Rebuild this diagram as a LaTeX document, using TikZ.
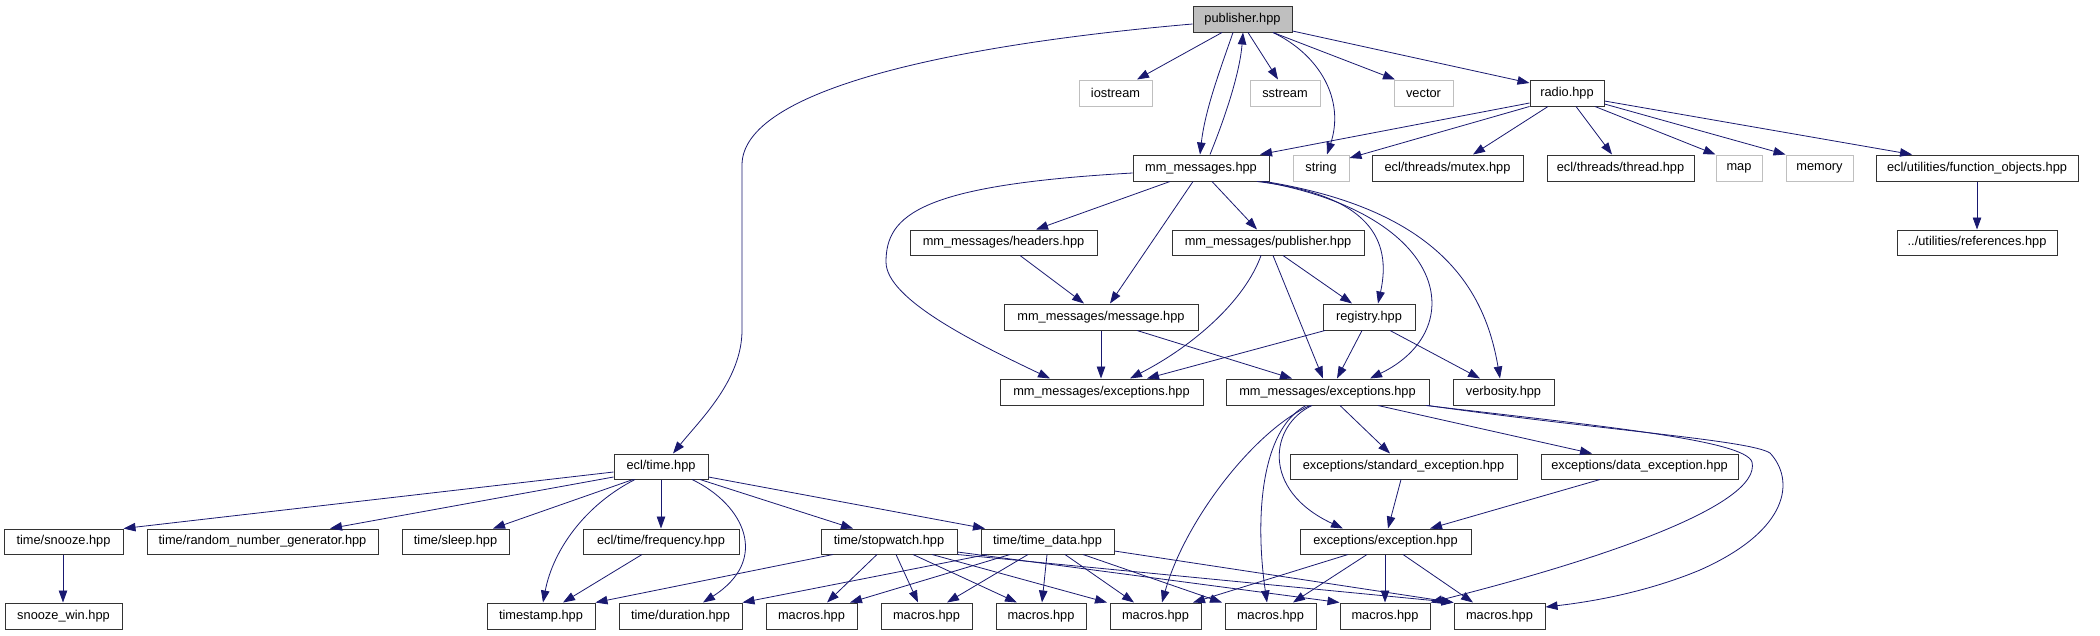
\documentclass[tikz,border=0pt]{standalone}
\usepackage{fontspec}
\usetikzlibrary{arrows.meta,calc}
\newfontfamily\lsans{Liberation Sans}
\definecolor{edgec}{HTML}{191970}
\definecolor{greyb}{HTML}{BFBFBF}
\definecolor{pfill}{HTML}{BFBFBF}
\definecolor{boxb}{HTML}{333333}
\newcommand\mkbox[7]{%
  \pgfmathsetmacro\mkw{#3-#2}\pgfmathsetmacro\mkh{#5-#4}%
  \pgfmathsetmacro\mkx{(#2+#3)/2}\pgfmathsetmacro\mky{(#4+#5)/2}%
  \node[#6, minimum width=\mkw pt, minimum height=\mkh pt] (#1) at (\mkx,\mky) {#7};}
\begin{document}
\begin{tikzpicture}[x=1pt,y=-1pt,
  basebox/.style={inner sep=0pt, line width=1pt, font=\lsans\fontsize{12.8}{14}\selectfont},
  box/.style={basebox, draw=boxb},
  gbox/.style={basebox, draw=greyb},
  rootbox/.style={basebox, draw=boxb, fill=pfill},
  e/.style={draw=edgec, line width=0.8pt, -{Triangle[length=12pt,width=8.5pt]}}]
\useasboundingbox[fill=white] (0,0) rectangle (2100,635);
% nodes
\mkbox{P}{1193}{1292}{6}{32}{rootbox}{publisher.hpp}
\mkbox{iostream}{1079}{1152}{80}{106}{gbox}{iostream}
\mkbox{sstream}{1250}{1320}{80}{106}{gbox}{sstream}
\mkbox{vector}{1394}{1453}{80}{106}{gbox}{vector}
\mkbox{radio}{1530}{1604}{80}{106}{box}{radio.hpp}
\mkbox{M}{1133}{1269}{155}{181}{box}{mm\_messages.hpp}
\mkbox{string}{1293}{1349}{155}{181}{gbox}{string}
\mkbox{mutex}{1372}{1523}{155}{181}{box}{ecl/threads/mutex.hpp}
\mkbox{thread}{1547}{1694}{155}{181}{box}{ecl/threads/thread.hpp}
\mkbox{map}{1716}{1762}{155}{181}{gbox}{map}
\mkbox{memory}{1786}{1853}{155}{181}{gbox}{memory}
\mkbox{funcobj}{1876}{2078}{155}{181}{box}{ecl/utilities/function\_objects.hpp}
\mkbox{refs}{1897}{2057}{230}{255}{box}{../utilities/references.hpp}
\mkbox{headers}{910}{1097}{230}{255}{box}{mm\_messages/headers.hpp}
\mkbox{mpub}{1172}{1364}{230}{255}{box}{mm\_messages/publisher.hpp}
\mkbox{message}{1004}{1198}{304}{330}{box}{mm\_messages/message.hpp}
\mkbox{registry}{1323}{1415}{304}{330}{box}{registry.hpp}
\mkbox{excA}{1000}{1203}{379}{405}{box}{mm\_messages/exceptions.hpp}
\mkbox{excB}{1226}{1429}{379}{405}{box}{mm\_messages/exceptions.hpp}
\mkbox{verbosity}{1453}{1554}{379}{405}{box}{verbosity.hpp}
\mkbox{ecltime}{614}{708}{454}{479}{box}{ecl/time.hpp}
\mkbox{stdexc}{1290}{1517}{454}{479}{box}{exceptions/standard\_exception.hpp}
\mkbox{dataexc}{1541}{1738}{454}{479}{box}{exceptions/data\_exception.hpp}
\mkbox{snooze}{4}{123}{529}{554}{box}{time/snooze.hpp}
\mkbox{random}{147}{378}{529}{554}{box}{time/random\_number\_generator.hpp}
\mkbox{sleep}{402}{509}{529}{554}{box}{time/sleep.hpp}
\mkbox{freq}{583}{739}{529}{554}{box}{ecl/time/frequency.hpp}
\mkbox{stopwatch}{821}{957}{529}{554}{box}{time/stopwatch.hpp}
\mkbox{timedata}{981}{1114}{529}{554}{box}{time/time\_data.hpp}
\mkbox{exception}{1300}{1471}{529}{554}{box}{exceptions/exception.hpp}
\mkbox{snoozewin}{5}{122}{603}{629}{box}{snooze\_win.hpp}
\mkbox{timestamp}{487}{595}{603}{629}{box}{timestamp.hpp}
\mkbox{duration}{619}{742}{603}{629}{box}{time/duration.hpp}
\mkbox{mA}{766}{857}{603}{629}{box}{macros.hpp}
\mkbox{mB}{881}{972}{603}{629}{box}{macros.hpp}
\mkbox{mC}{996}{1086}{603}{629}{box}{macros.hpp}
\mkbox{mD}{1110}{1201}{603}{629}{box}{macros.hpp}
\mkbox{mE}{1225}{1316}{603}{629}{box}{macros.hpp}
\mkbox{mF}{1340}{1430}{603}{629}{box}{macros.hpp}
\mkbox{mG}{1454}{1545}{603}{629}{box}{macros.hpp}
% publisher.hpp
\draw[e] (P.west |- 0,24) .. controls (950,45) and (742,90) .. (742,165) -- (742,330) .. controls (742,380) and (700,420) .. (ecltime.north -| 673,0);
\draw[e] (P.south -| 1222,0) -- (iostream.north -| 1137,0);
\draw[e] (P.south -| 1233,0) .. controls (1220,70) and (1205,110) .. (M.north -| 1200,0);
\draw[e] (M.north -| 1210,0) .. controls (1228,110) and (1240,70) .. (P.south -| 1243,0);
\draw[e] (P.south -| 1248,0) -- (sstream.north -| 1278,0);
\draw[e] (P.south -| 1273,0) .. controls (1320,55) and (1345,100) .. (string.north -| 1327,0);
\draw[e] (P.south -| 1273,0) -- (vector.north -| 1395,0);
\draw[e] (P.east |- 0,31) -- (radio.west |- 0,83);
% radio.hpp
\draw[e] (radio.west |- 0,103) -- (M.north -| 1260,0);
\draw[e] (radio.south west) -- (string.east |- 0,158);
\draw[e] (radio.south -| 1548,0) -- (mutex.north -| 1473,0);
\draw[e] (radio.south -| 1576,0) -- (thread.north -| 1612,0);
\draw[e] (radio.south -| 1595,0) -- (map.north west);
\draw[e] (radio.east |- 0,104) -- (memory.north west);
\draw[e] (radio.east |- 0,101) -- (funcobj.north -| 1912,0);
\draw[e] (funcobj.south -| 1977,0) -- (refs.north -| 1977,0);
% mm_messages.hpp
\draw[e] (M.south -| 1170,0) -- (headers.north -| 1036,0);
\draw[e] (M.south -| 1193,0) -- (message.north -| 1110,0);
\draw[e] (M.south -| 1212,0) -- (mpub.north -| 1257,0);
\draw[e] (M.south -| 1257,0) .. controls (1370,195) and (1392,240) .. (registry.north -| 1378,0);
\draw[e] (M.south -| 1262,0) .. controls (1450,215) and (1470,330) .. (excB.north -| 1370,0);
\draw[e] (M.south -| 1265,0) .. controls (1440,210) and (1485,290) .. (verbosity.north -| 1500,0);
\draw[e] (M.west |- 0,173) .. controls (920,185) and (886,215) .. (886,262) .. controls (886,300) and (980,345) .. (excA.north -| 1050,0);
% second level
\draw[e] (headers.south -| 1020,0) -- (message.north -| 1084,0);
\draw[e] (mpub.south -| 1261,0) .. controls (1245,300) and (1195,345) .. (excA.north -| 1130,0);
\draw[e] (mpub.south -| 1273,0) -- (excB.north -| 1323,0);
\draw[e] (mpub.south -| 1283,0) -- (registry.north -| 1352,0);
\draw[e] (message.south -| 1101,0) -- (excA.north -| 1101,0);
\draw[e] (message.south -| 1137,0) -- (excB.north -| 1292,0);
\draw[e] (registry.south -| 1325,0) -- (excA.north -| 1147,0);
\draw[e] (registry.south -| 1362,0) -- (excB.north -| 1337,0);
\draw[e] (registry.south -| 1390,0) -- (verbosity.north -| 1480,0);
% mm_messages/exceptions.hpp (right)
\draw[e] (excB.south -| 1340,0) -- (stdexc.north -| 1390,0);
\draw[e] (excB.south -| 1378,0) -- (dataexc.north -| 1592,0);
\draw[e] (excB.south -| 1312,0) .. controls (1270,425) and (1260,490) .. (exception.north -| 1343,0);
\draw[e] (excB.south -| 1310,0) .. controls (1255,430) and (1185,520) .. (mD.north -| 1162,0);
\draw[e] (excB.south -| 1306,0) .. controls (1260,430) and (1255,520) .. (mE.north -| 1267,0);
\draw[e] (excB.south -| 1426,0) .. controls (1600,426) and (1745,440) .. (1752,462) .. controls (1762,505) and (1600,560) .. (mF.north east);
\draw[e] (excB.south -| 1428,0) .. controls (1600,430) and (1750,440) .. (1770,453) .. controls (1795,480) and (1790,530) .. (1700,570) .. controls (1640,595) and (1580,603) .. (mG.east |- 0,607);
% exceptions
\draw[e] (stdexc.south -| 1401,0) -- (exception.north -| 1388,0);
\draw[e] (dataexc.south -| 1600,0) -- (exception.north -| 1430,0);
\draw[e] (exception.south -| 1348,0) -- (mD.north -| 1193,0);
\draw[e] (exception.south -| 1367,0) -- (mE.north -| 1293,0);
\draw[e] (exception.south -| 1385,0) -- (mF.north -| 1385,0);
\draw[e] (exception.south -| 1403,0) -- (mG.north -| 1473,0);
% ecl/time.hpp
\draw[e] (ecltime.west |- 0,472) -- (snooze.north east);
\draw[e] (ecltime.west |- 0,477) -- (random.north -| 330,0);
\draw[e] (ecltime.south -| 633,0) -- (sleep.north -| 493,0);
\draw[e] (ecltime.south -| 635,0) .. controls (585,505) and (553,550) .. (timestamp.north -| 543,0);
\draw[e] (ecltime.south -| 661,0) -- (freq.north -| 661,0);
\draw[e] (ecltime.south -| 692,0) .. controls (745,505) and (770,560) .. (duration.north -| 703,0);
\draw[e] (ecltime.south -| 700,0) -- (stopwatch.north -| 853,0);
\draw[e] (ecltime.east |- 0,477) -- (timedata.north -| 985,0);
\draw[e] (freq.south -| 642,0) -- (timestamp.north -| 563,0);
\draw[e] (snooze.south -| 63,0) -- (snoozewin.north -| 63,0);
% time/stopwatch.hpp
\draw[e] (stopwatch.south -| 833,0) -- (timestamp.north east);
\draw[e] (stopwatch.south -| 877,0) -- (mA.north -| 827,0);
\draw[e] (stopwatch.south -| 896,0) -- (mB.north -| 918,0);
\draw[e] (stopwatch.south -| 913,0) -- (mC.north -| 1017,0);
\draw[e] (stopwatch.south -| 932,0) -- (mD.north -| 1107,0);
\draw[e] (stopwatch.east |- 0,552) -- (mF.north west);
\draw[e] (stopwatch.south east) -- (mG.north west);
% time/time_data.hpp
\draw[e] (timedata.south -| 987,0) -- (duration.north east);
\draw[e] (timedata.south -| 1010,0) -- (mA.north -| 850,0);
\draw[e] (timedata.south -| 1028,0) -- (mB.north -| 947,0);
\draw[e] (timedata.south -| 1047,0) -- (mC.north -| 1042,0);
\draw[e] (timedata.south -| 1065,0) -- (mD.north -| 1134,0);
\draw[e] (timedata.south -| 1083,0) -- (mE.north -| 1222,0);
\draw[e] (timedata.east |- 0,551) -- (mG.north west);
\end{tikzpicture}
\end{document}
